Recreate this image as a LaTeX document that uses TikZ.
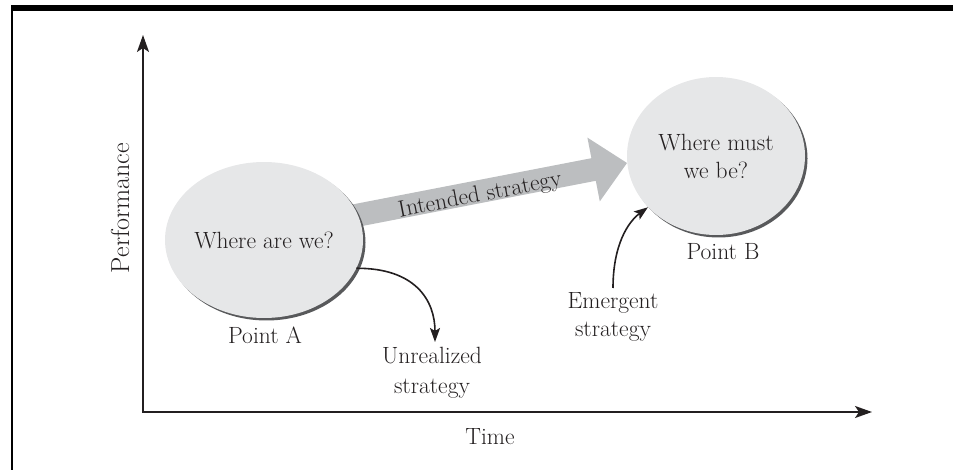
\documentclass[tikz,border=0pt]{standalone}
\usepackage{fontspec}
\usetikzlibrary{shadows,arrows.meta,shapes.geometric}
\definecolor{ellfill}{HTML}{E6E7E8}
\definecolor{arrgray}{HTML}{BCBEC0}
\definecolor{shadowgray}{HTML}{58595B}
\definecolor{ink}{HTML}{231F20}
\begin{document}
\begin{tikzpicture}[x=1pt,y=-1pt,
  font=\fontsize{23.5}{29}\selectfont, text=ink,
  blob/.style={ellipse, fill=ellfill, inner sep=0pt, text=ink, align=center,
    drop shadow={shadow xshift=2.5pt, shadow yshift=-2.5pt, fill=shadowgray, opacity=1}},
  lbl/.style={inner sep=0pt, align=center, text=ink},
  axisline/.style={draw=ink, line width=1.8pt, {Stealth[length=17pt,width=12pt,inset=4pt]}-{Stealth[length=17pt,width=12pt,inset=4pt]}},
  curvearrow/.style={draw=ink, line width=1.6pt, -{Stealth[length=14pt,width=10pt,inset=3pt]}}
]
\useasboundingbox (0,0) rectangle (953,470);
% frame
\fill[black] (11,5) rectangle (953,11);
\fill[black] (11,5) rectangle (13,470);
% axes
\coordinate (O) at (143,412);
\coordinate (ytip) at (143,35);
\coordinate (xtip) at (872,412);
\draw[axisline] (ytip) -- (O) -- (xtip);
\node[lbl, rotate=90, font=\fontsize{26}{30}\selectfont] (perf) at (120,208) {\addfontfeature{LetterSpace=7}Performance};
\node[lbl] (time) at (490,437) {Time};
% big arrow (intended strategy)
\coordinate (s1) at (296.9,215.2);
\coordinate (s2) at (591.4,158.2);
\coordinate (h1) at (587.4,137.6);
\coordinate (tip) at (627,163);
\coordinate (h2) at (599.8,201.4);
\coordinate (s3) at (595.8,180.8);
\coordinate (s4) at (301.3,237.8);
\fill[arrgray] (s1) -- (s2) -- (h1) -- (tip) -- (h2) -- (s3) -- (s4) -- cycle;
\node[lbl, rotate=10.95, anchor=base] (intended) at (481.2,201.5) {Intended strategy};
% ellipses
\node[blob, minimum width=198pt, minimum height=156pt] (A) at (264,240) {Where are we?};
\node[blob, minimum width=178pt, minimum height=158pt] (B) at (716,156) {Where must\\[-1pt]we be?};
\node[lbl] (pa) at (265,335) {Point A};
\node[lbl] (pb) at (723,252) {Point B};
% unrealized
\coordinate (ua) at (435,342);
\draw[curvearrow] (A.-17.7) .. controls (415,268) and (435,300) .. (ua);
\node[lbl] (unr) at (432,373) {Unrealized\\[1pt]strategy};
% emergent
\coordinate (ea) at (613,288);
\draw[curvearrow] (ea) .. controls (613,245) and (628,222) .. (B.217);
\node[lbl] (emg) at (613,317) {Emergent\\[-1pt]strategy};
\end{tikzpicture}
\end{document}
